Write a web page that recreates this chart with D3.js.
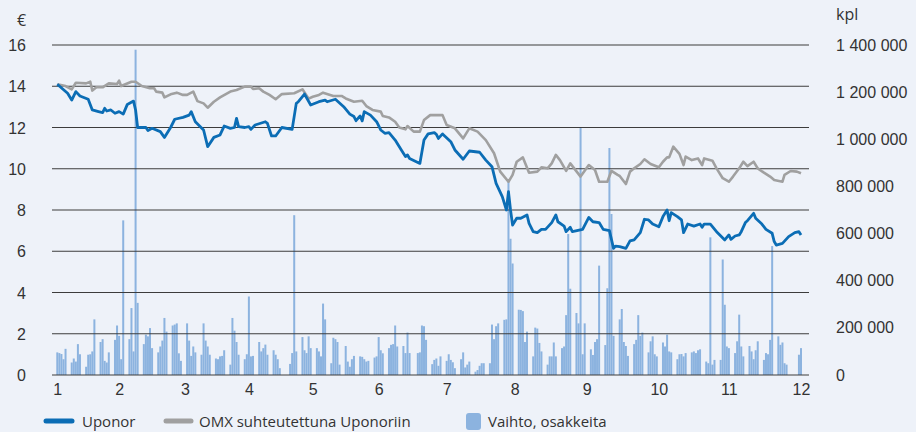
<!DOCTYPE html>
<html>
<head>
<meta charset="utf-8">
<script src="https://cdn.jsdelivr.net/npm/d3@7"></script>
<style>
  body { margin: 0; background: #eef2f9; }
  svg { display: block; font-family: "Open Sans", "Noto Sans", sans-serif; }
</style>
</head>
<body>
<div id="kuvaaja"></div>
<script>
// paivat = paivia 3.1.2011 alkaen
const kuukaudet = ["1", "2", "3", "4", "5", "6", "7", "8", "9", "10", "11", "12"];
const kuukausiPaivat = [0, 30, 62, 93, 124, 156, 189, 222, 257, 292, 326, 361];

const euroTicks = [0, 2, 4, 6, 8, 10, 12, 14, 16];
const kplTicks = [0, 200000, 400000, 600000, 800000, 1000000, 1200000, 1400000];

// vaihto, tuhatta osaketta, viikoittain ma-pe
const vaihtoViikot = [
  [96, 93, 89, 67, 111], [53, 70, 57, 131, 88], [35, 86, 88, 100, 236], [140, 152, 60, 53, 96],
  [149, 210, 166, 67, 656], [152, 284, 100, 1380, 306], [131, 171, 164, 199, 114], [96, 121, 146, 242, 184],
  [210, 214, 219, 92, 60], [219, 146, 81, 121, 96], [86, 219, 146, 121, 86], [70, 67, 79, 81, 105],
  [44, 242, 188, 140, 86], [67, 88, 333, 79, 81], [140, 100, 114, 129, 86], [105, 86, 67, 29, null],
  [null, 47, 93, 678, 100], [161, 105, 93, 164, 114], [114, 100, 79, 303, 236], [50, 158, 152, 140, 44],
  [123, 57, 35, 67, 81], [79, 77, 67, 57, 60], [74, 79, 161, 105, 92], [114, 128, 131, 210, 121],
  [123, 93, 180, 93, null], [93, 96, 210, 207, 149], [46, 64, 70, 39, 79], [60, 88, 64, 54, 29],
  [67, 96, 32, 44, 57], [14, 21, 39, 50, 50], [50, 214, 152, 207, 219], [234, 236, 823, 578, 473],
  [277, 276, 271, 140, 184], [79, 201, 197, 136, 100], [44, 79, 79, 138, 79], [114, 121, 254, 598, 366],
  [263, 219, 1050, 88, 219], [109, 85, 140, 152, 464], [127, 368, 963, 683, 166], [236, 280, 140, 123, 81],
  [131, 149, 254, 166, 180], [96, 143, 164, 88, 79], [138, 121, 171, 100, 96], [67, 88, 89, 79, 93],
  [96, 100, 93, 105, 109], [57, 50, 584, 44, 64], [64, 490, 298, 121, 114], [93, 143, 256, 121, 79],
  [123, 100, 67, 105, 143], [64, 93, 88, 149, 547], [164, 128, 138, 50, 44], [null, null, null, 86, 114]
];

// [paiva, euroa]
const uponor = [
  [0,14.1],[5,13.66],[7,13.33],[9,13.74],[11,13.53],[15,13.37],[17,12.85],[20,12.77],[22,12.72],[23,12.93],
  [24,12.8],[26,12.85],[28,12.69],[30,12.77],[32,12.65],[34,13.12],[37,13.28],[38,12.85],[39,12.0],[43,12.0],
  [44,11.85],[46,11.96],[50,11.8],[52,11.52],[55,12.0],[57,12.4],[61,12.49],[64,12.6],[65,12.77],[67,12.28],
  [71,11.88],[73,11.07],[76,11.52],[79,11.64],[81,12.07],[84,11.96],[86,12.0],[87,12.44],[88,12.04],[91,12.0],
  [93,12.04],[94,11.91],[96,12.12],[101,12.28],[102,12.2],[104,11.59],[106,11.59],[109,12.0],[114,11.91],[116,13.17],
  [117,13.25],[120,13.62],[123,13.09],[127,13.25],[130,13.33],[131,13.25],[135,13.37],[139,13.01],[142,12.65],[144,12.53],
  [145,12.33],[147,12.56],[148,12.32],[149,12.77],[152,12.6],[155,12.28],[157,11.88],[159,11.72],[161,11.75],[164,11.39],
  [167,10.91],[169,10.59],[170,10.67],[171,10.5],[176,10.26],[178,11.39],[180,11.69],[183,11.75],[184,11.67],[185,11.47],
  [187,11.69],[191,11.31],[193,10.91],[197,10.46],[200,10.86],[205,10.8],[208,10.42],[211,10.1],[213,9.29],[216,8.65],
  [218,8.0],[219,8.89],[220,8.0],[221,7.27],[223,7.6],[225,7.6],[228,7.76],[229,7.35],[231,6.95],[233,6.9],
  [235,7.06],[237,7.06],[240,7.39],[242,7.76],[243,7.43],[246,7.22],[247,6.95],[249,7.16],[250,6.95],[255,7.06],
  [258,7.64],[260,7.43],[263,7.39],[265,7.06],[268,7.0],[270,6.14],[271,6.25],[273,6.22],[276,6.14],[278,6.5],
  [280,6.55],[283,6.9],[285,7.55],[287,7.52],[289,7.32],[292,7.19],[294,7.68],[296,8.0],[297,7.48],[298,7.87],
  [301,7.68],[303,7.52],[304,6.9],[306,7.32],[309,7.22],[312,7.32],[313,7.16],[314,7.32],[317,7.32],[320,6.95],
  [324,6.55],[326,6.79],[327,6.58],[329,6.74],[331,6.79],[332,6.95],[334,7.39],[335,7.48],[338,7.84],[339,7.6],
  [342,7.32],[344,7.06],[347,6.87],[348,6.47],[349,6.3],[352,6.38],[355,6.71],[358,6.9],[360,6.95],[361,6.79]
];

const omx = [
  [0,14.1],[4,14.01],[7,13.85],[9,14.17],[14,14.14],[16,14.22],[17,13.79],[19,13.95],[22,13.95],[25,14.14],
  [29,14.11],[30,14.27],[31,14.01],[36,14.22],[38,14.22],[41,14.01],[45,13.9],[47,13.9],[48,13.74],[51,13.69],
  [52,13.46],[55,13.61],[58,13.69],[61,13.58],[63,13.58],[66,13.74],[68,13.28],[71,13.17],[73,12.96],[76,13.25],
  [79,13.46],[84,13.74],[87,13.82],[91,13.98],[94,13.98],[95,13.87],[98,13.9],[100,13.74],[103,13.58],[106,13.37],
  [109,13.62],[115,13.66],[119,13.85],[122,13.4],[124,13.49],[127,13.58],[129,13.69],[134,13.53],[138,13.53],[140,13.41],
  [144,13.25],[148,13.3],[150,13.04],[153,12.85],[157,12.77],[158,12.56],[161,12.49],[164,12.28],[166,12.0],[169,11.91],
  [170,12.07],[173,11.8],[176,11.8],[178,12.36],[181,12.6],[182,12.6],[187,12.6],[189,12.12],[193,11.96],[197,11.47],
  [200,11.96],[204,11.8],[208,11.39],[212,10.75],[215,9.86],[219,9.37],[221,9.7],[223,10.34],[226,10.55],[229,9.81],
  [233,9.86],[235,10.07],[238,10.02],[240,10.26],[242,10.67],[244,10.42],[247,9.9],[249,10.26],[254,9.62],[258,10.18],
  [261,9.94],[263,9.37],[267,9.37],[269,9.9],[272,9.7],[273,9.65],[276,9.26],[278,9.86],[280,10.02],[283,10.23],
  [285,10.46],[288,10.23],[292,10.07],[294,10.34],[296,10.55],[297,10.55],[299,11.07],[302,10.72],[304,10.18],[305,10.59],
  [308,10.42],[311,10.5],[313,10.18],[314,10.5],[318,10.39],[320,10.02],[323,9.54],[326,9.37],[328,9.62],[331,10.02],
  [333,10.34],[335,10.13],[338,10.34],[340,10.02],[343,9.81],[346,9.62],[348,9.45],[352,9.37],[353,9.7],[356,9.89],
  [359,9.86],[361,9.78]
];

const sininen = "#0b6db5";
const harmaa = "#a0a0a0";
const palkki = "#8cb3df";
const teksti = "#333333";

const width = 916;
const height = 432;
const plotLeft = 52, plotRight = 809, plotTop = 45, plotBottom = 375;

const vaihto = [];
vaihtoViikot.forEach((viikko, w) => {
    viikko.forEach((v, k) => {
        if (v != null) vaihto.push({ paiva: w * 7 + k, kpl: v * 1000 });
    });
});

const svg = d3.select("#kuvaaja")
    .append("svg")
    .attr("width", width)
    .attr("height", height);

svg.append("rect")
    .attr("width", width)
    .attr("height", height)
    .attr("fill", "#eef2f9");

const xScale = d3.scaleLinear()
    .domain([0, 361])
    .range([57.3, 801]);

const yScale = d3.scaleLinear()
    .domain([0, 16])
    .range([plotBottom, plotTop]);

const y2Scale = d3.scaleLinear()
    .domain([0, 1400000])
    .range([plotBottom, plotTop]);

// palkit
svg.append("g")
    .selectAll("rect")
    .data(vaihto)
    .enter()
    .append("rect")
    .attr("x", d => xScale(d.paiva) - 1)
    .attr("y", d => y2Scale(d.kpl))
    .attr("width", 2)
    .attr("height", d => plotBottom - y2Scale(d.kpl))
    .attr("fill", palkki);

// ruudukko
svg.append("g")
    .selectAll("line")
    .data(euroTicks)
    .enter()
    .append("line")
    .attr("x1", plotLeft)
    .attr("x2", plotRight)
    .attr("y1", d => yScale(d))
    .attr("y2", d => yScale(d))
    .attr("stroke", "#3c3c3c")
    .attr("stroke-width", 1.1);

const viiva = d3.line()
    .x(d => xScale(d[0]))
    .y(d => yScale(d[1]));

svg.append("path")
    .datum(omx)
    .attr("d", viiva)
    .attr("fill", "none")
    .attr("stroke", harmaa)
    .attr("stroke-width", 2.6)
    .attr("stroke-linejoin", "round");

svg.append("path")
    .datum(uponor)
    .attr("d", viiva)
    .attr("fill", "none")
    .attr("stroke", sininen)
    .attr("stroke-width", 2.8)
    .attr("stroke-linejoin", "round");

// akselit
svg.append("g")
    .attr("transform", `translate(0, ${plotBottom})`)
    .call(d3.axisBottom(xScale)
        .tickValues(kuukausiPaivat)
        .tickFormat((d, i) => kuukaudet[i])
        .tickSize(0)
        .tickPadding(9))
    .call(g => g.select(".domain").remove())
    .selectAll("text")
        .style("font-size", "16px")
        .attr("fill", teksti);

svg.append("g")
    .attr("transform", `translate(${plotLeft - 26}, 0)`)
    .call(d3.axisLeft(yScale)
        .tickValues(euroTicks)
        .tickSize(0)
        .tickPadding(0))
    .call(g => g.select(".domain").remove())
    .selectAll("text")
        .style("font-size", "16px")
        .attr("dy", "0.72em")
        .attr("y", -6)
        .attr("fill", teksti);

const kplFormat = d => d3.format(",")(d).replace(/,/g, "\u2009\u200a");

svg.append("g")
    .attr("transform", `translate(836, 0)`)
    .call(d3.axisRight(y2Scale)
        .tickValues(kplTicks)
        .tickFormat(kplFormat)
        .tickSize(0)
        .tickPadding(0))
    .call(g => g.select(".domain").remove())
    .selectAll("text")
        .style("font-size", "16px")
        .attr("fill", teksti);

svg.append("text")
    .attr("x", 17)
    .attr("y", 26)
    .style("font-size", "16px")
    .attr("fill", teksti)
    .text("€");

svg.append("text")
    .attr("x", 836)
    .attr("y", 20)
    .style("font-size", "16px")
    .attr("fill", teksti)
    .text("kpl");

// selite
const selite = svg.append("g")
    .attr("transform", "translate(0, 421)");

selite.append("line")
    .attr("x1", 46).attr("x2", 72)
    .attr("stroke", sininen)
    .attr("stroke-width", 5)
    .attr("stroke-linecap", "round");

selite.append("text")
    .attr("x", 82).attr("y", 6)
    .style("font-size", "15px")
    .attr("fill", teksti)
    .text("Uponor");

selite.append("line")
    .attr("x1", 166).attr("x2", 191)
    .attr("stroke", harmaa)
    .attr("stroke-width", 5)
    .attr("stroke-linecap", "round");

selite.append("text")
    .attr("x", 199).attr("y", 6)
    .style("font-size", "15px")
    .attr("fill", teksti)
    .text("OMX suhteutettuna Uponoriin");

selite.append("rect")
    .attr("x", 466).attr("y", -8)
    .attr("width", 15).attr("height", 17)
    .attr("rx", 3)
    .attr("fill", palkki);

selite.append("text")
    .attr("x", 488).attr("y", 6)
    .style("font-size", "15px")
    .attr("fill", teksti)
    .text("Vaihto, osakkeita");
</script>
</body>
</html>
